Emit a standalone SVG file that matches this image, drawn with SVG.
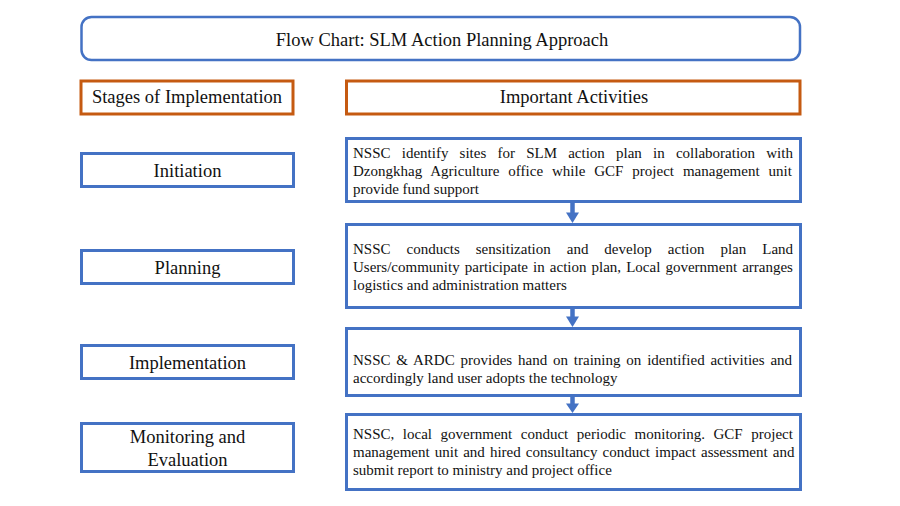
<svg xmlns="http://www.w3.org/2000/svg" width="900" height="506" viewBox="0 0 900 506">
<style>
text{font-family:"Liberation Serif","Times New Roman",serif;fill:#111}
.lbl{font-size:18.5px;text-anchor:middle}
.body{font-size:15px}
.blue{fill:#fff;stroke:#4472C4;stroke-width:3}
.orange{fill:#fff;stroke:#C55A11;stroke-width:3}
.shaft{stroke:#4472C4;stroke-width:4.5}
.head{fill:#4472C4}
</style>
<rect width="900" height="506" fill="#fff"/>
<g id="title">
<rect x="81.5" y="17" width="718.5" height="43" rx="10" fill="#fff" stroke="#4472C4" stroke-width="2.5"/>
<text class="lbl" x="442" y="46">Flow Chart: SLM Action Planning Approach</text>
</g>
<g id="hdr-stages">
<rect class="orange" x="81" y="81" width="212" height="33"/>
<text class="lbl" x="187" y="103">Stages of Implementation</text>
</g>
<g id="hdr-activities">
<rect class="orange" x="346.5" y="81" width="453.5" height="33"/>
<text class="lbl" x="574" y="103">Important Activities</text>
</g>
<g id="stage-initiation">
<rect class="blue" x="81.5" y="153.5" width="212" height="33"/>
<text class="lbl" x="187.5" y="177">Initiation</text>
</g>
<g id="stage-planning">
<rect class="blue" x="81.5" y="250.5" width="212" height="33"/>
<text class="lbl" x="187.5" y="274">Planning</text>
</g>
<g id="stage-implementation">
<rect class="blue" x="81.5" y="345.5" width="212" height="33"/>
<text class="lbl" x="187.5" y="369">Implementation</text>
</g>
<g id="stage-monitoring">
<rect class="blue" x="81.5" y="423.5" width="212" height="48"/>
<text class="lbl" x="187.5" y="443">Monitoring and</text>
<text class="lbl" x="187.5" y="466">Evaluation</text>
</g>
<g id="act-initiation">
<rect class="blue" x="346.5" y="138.5" width="454" height="63"/>
<text class="body"><tspan x="353" y="158" word-spacing="7.45">NSSC identify sites for SLM action plan in collaboration with</tspan><tspan x="353" y="176" word-spacing="5.19">Dzongkhag Agriculture office while GCF project management unit</tspan><tspan x="353" y="194">provide fund support</tspan></text>
</g>
<g id="act-planning">
<rect class="blue" x="346.5" y="224.5" width="454" height="83"/>
<text class="body"><tspan x="353" y="254" word-spacing="12.22">NSSC conducts sensitization and develop action plan Land</tspan><tspan x="353" y="272" word-spacing="1.32">Users/community participate in action plan, Local government arranges</tspan><tspan x="353" y="290">logistics and administration matters</tspan></text>
</g>
<g id="act-implementation">
<rect class="blue" x="346.5" y="328.5" width="454" height="67"/>
<text class="body"><tspan x="353" y="365" word-spacing="2.08">NSSC &amp; ARDC provides hand on training on identified activities and</tspan><tspan x="353" y="383">accordingly land user adopts the technology</tspan></text>
</g>
<g id="act-monitoring">
<rect class="blue" x="346.5" y="414.5" width="454" height="75"/>
<text class="body"><tspan x="353" y="439" word-spacing="4.82">NSSC, local government conduct periodic monitoring. GCF project</tspan><tspan x="353" y="457" word-spacing="1.34">management unit and hired consultancy conduct impact assessment and</tspan><tspan x="353" y="475">submit report to ministry and project office</tspan></text>
</g>
<g id="connectors">
<line class="shaft" x1="572.5" y1="202" x2="572.5" y2="213"/>
<polygon class="head" points="566,212.5 579,212.5 572.5,223"/>
<line class="shaft" x1="572.5" y1="308" x2="572.5" y2="317"/>
<polygon class="head" points="566,316.5 579,316.5 572.5,327"/>
<line class="shaft" x1="572.5" y1="396" x2="572.5" y2="404"/>
<polygon class="head" points="566,403.5 579,403.5 572.5,413"/>
</g>
</svg>
